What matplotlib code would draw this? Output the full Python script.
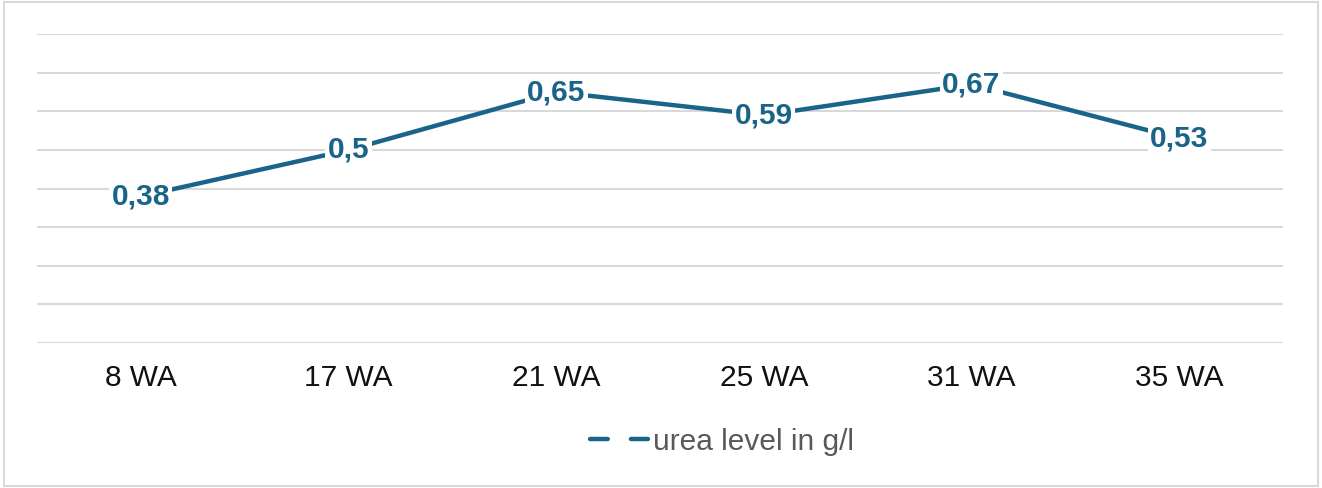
import matplotlib.pyplot as plt
from matplotlib.lines import Line2D
from matplotlib.patches import Rectangle

# data
weeks = ['8 WA', '17 WA', '21 WA', '25 WA', '31 WA', '35 WA']
urea = [0.38, 0.5, 0.65, 0.59, 0.67, 0.53]
labels = ['0,38', '0,5', '0,65', '0,59', '0,67', '0,53']

line_color = '#1b6489'
grid_color = '#d9d9d9'

plt.rcParams['font.family'] = ['Liberation Sans', 'DejaVu Sans']

fig = plt.figure(figsize=(13.22, 4.88), dpi=100)
ax = fig.add_axes([0.028, 0.297, 0.9425, 0.633])

x = list(range(len(weeks)))
ax.plot(x, urea, color=line_color, linewidth=3.2, solid_capstyle='round', zorder=3)

# value labels sit on a white box that hides the line and grid underneath
for xi, yi, lab in zip(x, urea, labels):
    ax.text(xi, yi, lab, ha='center', va='center', fontsize=21.5, fontweight='bold',
            color=line_color, zorder=4,
            bbox=dict(boxstyle='square,pad=0.08', facecolor='white', edgecolor='none'))

ax.set_xlim(-0.5, len(weeks) - 0.5)
ax.set_ylim(0, 0.8)
ax.set_yticks([i / 10 for i in range(9)])
ax.set_yticklabels([])
ax.grid(axis='y', color=grid_color, linewidth=1.5)
ax.set_axisbelow(True)
ax.set_xticks(x)
ax.set_xticklabels(weeks, fontsize=21.5, color='#111111')
ax.tick_params(axis='both', length=0)
ax.tick_params(axis='x', pad=15)
for s in ax.spines.values():
    s.set_visible(False)

handle = Line2D([], [], color=line_color, linewidth=3.2, linestyle=(0, (4.0, 5.2)),
                dash_capstyle='round')
fig.legend([handle], ['urea level in g/l'], loc='center', bbox_to_anchor=(0.546, 0.095),
           frameon=False, fontsize=21.5, labelcolor='#595959', handlelength=1.95,
           handletextpad=0.15)

# outer border
fig.patches.append(Rectangle((0.003, 0.005), 0.994, 0.99, transform=fig.transFigure,
                             fill=False, edgecolor=grid_color, linewidth=1.5))

fig.savefig('out.png', dpi=100)
